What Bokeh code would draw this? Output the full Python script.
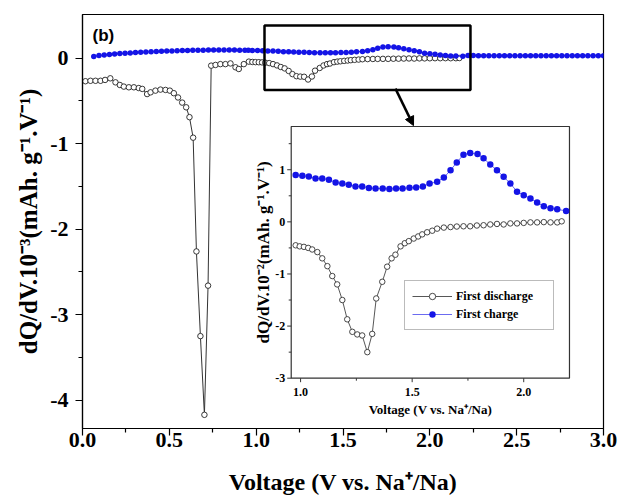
import numpy as np
from bokeh.plotting import figure
from bokeh.models import (Range1d, FixedTicker, BoxAnnotation, Arrow, NormalHead,
                          Label, Legend, LegendItem, PrintfTickFormatter)
from bokeh.core.properties import value
from bokeh.embed import file_html
from bokeh.resources import INLINE

# ---------------- data (dQ/dV in 10^-3 units for main plot) ----------------
# main-plot-only part of first discharge (V, dQ/dV)
dis_v_main = [0.017, 0.046, 0.075, 0.104, 0.13, 0.16, 0.19, 0.215, 0.238, 0.267, 0.296,
              0.324, 0.344, 0.372, 0.392, 0.42, 0.449, 0.478, 0.503, 0.526, 0.55, 0.574,
              0.597, 0.616, 0.637, 0.656, 0.679, 0.702, 0.723, 0.741, 0.766, 0.794, 0.823,
              0.852, 0.881, 0.9, 0.929, 0.958]
dis_main = [-0.27, -0.265, -0.265, -0.265, -0.255, -0.236, -0.283, -0.314, -0.333, -0.341,
            -0.341, -0.35, -0.36, -0.42, -0.40, -0.38, -0.368, -0.372, -0.38, -0.41, -0.46,
            -0.52, -0.575, -0.69, -0.93, -2.26, -3.25, -4.17, -2.66, -0.088, -0.08, -0.07,
            -0.07, -0.062, -0.107, -0.127, -0.07, -0.041]

# main-plot-only parts of first charge
chg_v_low = [0.065, 0.095, 0.125, 0.155, 0.185, 0.215, 0.245, 0.275, 0.305, 0.335, 0.365,
             0.395, 0.425, 0.455, 0.485, 0.515, 0.545, 0.575, 0.605, 0.635, 0.665, 0.695,
             0.725, 0.755, 0.785, 0.815, 0.845, 0.875, 0.905, 0.935, 0.955]
chg_low = [0.02, 0.03, 0.037, 0.043, 0.048, 0.053, 0.057, 0.061, 0.065, 0.068, 0.071, 0.074,
           0.077, 0.08, 0.082, 0.084, 0.086, 0.088, 0.09, 0.091, 0.092, 0.093, 0.094, 0.095,
           0.095, 0.095, 0.095, 0.094, 0.093, 0.092, 0.091]
chg_v_high = [2.22, 2.25, 2.28, 2.31, 2.34, 2.37, 2.40, 2.43, 2.46, 2.49, 2.52, 2.55, 2.58,
              2.61, 2.64, 2.67, 2.70, 2.73, 2.76, 2.79, 2.82, 2.85, 2.88, 2.91, 2.94, 2.97, 3.0]
chg_high = [0.03, 0.03, 0.029, 0.029, 0.029, 0.028, 0.028, 0.028, 0.028, 0.028, 0.028, 0.028,
            0.028, 0.028, 0.028, 0.028, 0.028, 0.028, 0.028, 0.028, 0.028, 0.028, 0.028,
            0.028, 0.028, 0.028, 0.028]

# inset data (units of the inset axis, x10 of the main axis)
ins_dis_v = [0.978, 0.996, 1.015, 1.034, 1.052, 1.075, 1.097, 1.12, 1.142, 1.164, 1.187,
             1.209, 1.232, 1.254, 1.276, 1.299, 1.321, 1.339, 1.366, 1.388, 1.408, 1.425,
             1.448, 1.467, 1.485, 1.507, 1.527, 1.545, 1.567, 1.59, 1.612, 1.642, 1.672,
             1.70, 1.73, 1.76, 1.79, 1.82, 1.85, 1.88, 1.91, 1.94, 1.97, 2.0, 2.03, 2.06,
             2.09, 2.12, 2.15, 2.17]
ins_dis = [-0.45, -0.47, -0.48, -0.50, -0.53, -0.58, -0.70, -0.85, -1.04, -1.20, -1.50,
           -1.87, -2.11, -2.16, -2.18, -2.50, -2.15, -1.47, -1.15, -0.86, -0.70, -0.63,
           -0.47, -0.41, -0.37, -0.32, -0.28, -0.24, -0.20, -0.17, -0.13, -0.11, -0.10,
           -0.09, -0.085, -0.085, -0.07, -0.065, -0.05, -0.04, -0.05, -0.03, -0.03, -0.02,
           -0.01, -0.01, -0.005, -0.01, -0.01, 0.01]
ins_chg_v = [0.978, 1.008, 1.037, 1.067, 1.097, 1.127, 1.157, 1.187, 1.216, 1.246, 1.276,
             1.306, 1.336, 1.368, 1.398, 1.428, 1.457, 1.488, 1.518, 1.548, 1.578, 1.612,
             1.642, 1.672, 1.70, 1.73, 1.76, 1.793, 1.82, 1.85, 1.88, 1.91, 1.94, 1.97,
             2.0, 2.03, 2.06, 2.09, 2.12, 2.15, 2.19]
ins_chg = [0.90, 0.885, 0.87, 0.83, 0.83, 0.81, 0.755, 0.735, 0.71, 0.68, 0.68, 0.65, 0.64,
           0.64, 0.63, 0.64, 0.64, 0.655, 0.66, 0.68, 0.735, 0.77, 0.85, 0.99, 1.14, 1.29,
           1.32, 1.30, 1.22, 1.10, 0.99, 0.865, 0.735, 0.58, 0.51, 0.45, 0.37, 0.30, 0.26,
           0.24, 0.21]
INSET_FACTOR = 10.0

x_ticks = [0.0, 0.5, 1.0, 1.5, 2.0, 2.5, 3.0]
x_minor = [0.25, 0.75, 1.25, 1.75, 2.25, 2.75]
y_ticks = [-4, -3, -2, -1, 0]
y_minor = [-3.5, -2.5, -1.5, -0.5]
ix_ticks = [1.0, 1.5, 2.0]
ix_minor = [1.25, 1.75]
iy_ticks = [-3, -2, -1, 0, 1]
iy_minor = [-2.5, -1.5, -0.5, 0.5, 1.5]

# combined series for the main plot
main_dis_v = dis_v_main + ins_dis_v
main_dis = dis_main + [v / INSET_FACTOR for v in ins_dis]
main_chg_v = chg_v_low + ins_chg_v + chg_v_high
main_chg = chg_low + [v / INSET_FACTOR for v in ins_chg] + chg_high

SERIF = "Liberation Serif"
BLUE = "#1414e6"

# ---------------- main figure ----------------
FW, FH = 521, 414
p = figure(frame_width=FW, frame_height=FH, x_range=Range1d(0, 3.0),
           y_range=Range1d(-4.33, 0.51), output_backend="svg", toolbar_location=None,
           min_border_left=82, min_border_right=17, min_border_top=14, min_border_bottom=10)
p.xgrid.visible = False
p.ygrid.visible = False
p.outline_line_color = "black"
p.outline_line_width = 1.2
p.outline_line_alpha = 1
p.background_fill_color = "white"

for ax in (p.xaxis[0], p.yaxis[0]):
    ax.axis_line_width = 1.2
    ax.axis_line_color = "black"
    ax.major_tick_line_color = "black"
    ax.minor_tick_line_color = "black"
    ax.major_tick_in = 0
    ax.major_tick_out = 7
    ax.minor_tick_in = 0
    ax.minor_tick_out = 4
    ax.major_tick_line_width = 1.2
    ax.minor_tick_line_width = 1.2
    ax.major_label_text_font = SERIF
    ax.major_label_text_font_style = "bold"
    ax.major_label_text_font_size = "22px"
    ax.major_label_text_color = "black"
    ax.axis_label_text_font = SERIF
    ax.axis_label_text_font_style = "bold"
    ax.axis_label_text_color = "black"

p.xaxis.ticker = FixedTicker(ticks=x_ticks, minor_ticks=x_minor)
p.xaxis.formatter = PrintfTickFormatter(format="%.1f")
p.xaxis.axis_label = "Voltage (V vs. Na\u207a/Na)"
p.xaxis.axis_label_text_font_size = "24px"
p.xaxis.major_label_standoff = -3
p.xaxis.axis_label_standoff = 19

p.yaxis.ticker = FixedTicker(ticks=y_ticks, minor_ticks=y_minor)
p.yaxis.formatter = PrintfTickFormatter(format="%d")
p.yaxis.axis_label = "dQ/dV.10\u207b\u00b3(mAh. g\u207b\u00b9.V\u207b\u00b9)"
p.yaxis.axis_label_text_font_size = "25px"
p.yaxis.major_label_standoff = 7
p.yaxis.axis_label_standoff = 5

# main curves
p.line(main_dis_v, main_dis, line_color="#333333", line_width=1)
p.scatter(main_dis_v, main_dis, size=5.5, marker="circle", fill_color="white",
          line_color="#222222", line_width=0.9)
p.line(main_chg_v, main_chg, line_color=BLUE, line_width=1)
p.scatter(main_chg_v, main_chg, size=5.5, marker="circle", fill_color=BLUE, line_color=None)

# zoom box and arrow
p.add_layout(BoxAnnotation(left=1.048, right=2.234, bottom=-0.372, top=0.38,
                           fill_alpha=0, line_color="black", line_alpha=1, line_width=2.5))
p.add_layout(Arrow(end=NormalHead(size=9, fill_color="black", line_color="black"),
                   x_start=1.802, y_start=-0.357, x_end=1.906, y_end=-0.789,
                   line_width=2.5, line_color="black"))

p.add_layout(Label(x=0.058, y=0.263, text="(b)", text_font="Liberation Sans",
                   text_font_style="bold", text_font_size="17px", text_baseline="middle",
                   text_color="black"))

# ---------------- inset (drawn on extra ranges) ----------------
IX = (0.958, 2.205)
IY = (-3.0, 1.83)
fl, fr = 0.4006, 0.9347   # inset box, fraction of main frame width
fb, ft = 0.1215, 0.7295   # inset box, fraction of main frame height


def extra(lo, hi, f0, f1):
    span = (hi - lo) / (f1 - f0)
    start = lo - f0 * span
    return Range1d(start, start + span)


p.extra_x_ranges = {"ix": extra(IX[0], IX[1], fl, fr)}
p.extra_y_ranges = {"iy": extra(IY[0], IY[1], fb, ft)}
kw = dict(x_range_name="ix", y_range_name="iy")

p.quad(left=[IX[0]], right=[IX[1]], bottom=[IY[0]], top=[IY[1]], fill_color="white",
       line_color="#333333", line_width=1.2, **kw)

rd_l = p.line(ins_dis_v, ins_dis, line_color="#444444", line_width=0.9, **kw)
rd_s = p.scatter(ins_dis_v, ins_dis, size=5.5, marker="circle", fill_color="white",
                 line_color="#333333", line_width=0.9, **kw)
rc_l = p.line(ins_chg_v, ins_chg, line_color="#5a5aee", line_width=0.9, **kw)
rc_s = p.scatter(ins_chg_v, ins_chg, size=6.5, marker="circle", fill_color=BLUE,
                 line_color=None, **kw)

# inset ticks
p.ray(x=ix_ticks, y=[IY[0]] * len(ix_ticks), length=4, angle=-np.pi / 2,
      length_units="screen", line_color="#333333", line_width=1, **kw)
p.ray(x=ix_minor, y=[IY[0]] * len(ix_minor), length=2.5, angle=-np.pi / 2,
      length_units="screen", line_color="#333333", line_width=1, **kw)
p.ray(x=[IX[0]] * len(iy_ticks), y=iy_ticks, length=4, angle=np.pi,
      length_units="screen", line_color="#333333", line_width=1, **kw)
p.ray(x=[IX[0]] * len(iy_minor), y=iy_minor, length=2.5, angle=np.pi,
      length_units="screen", line_color="#333333", line_width=1, **kw)

p.text(x=ix_ticks, y=[IY[0]] * len(ix_ticks), text=[f"{t:.1f}" for t in ix_ticks],
       text_font=value(SERIF), text_font_style=value("bold"), text_font_size=value("12px"),
       text_align="center", text_baseline="middle", y_offset=14, text_color="black", **kw)
p.text(x=[IX[0]] * len(iy_ticks), y=iy_ticks, text=[str(t) for t in iy_ticks],
       text_font=value(SERIF), text_font_style=value("bold"), text_font_size=value("12px"),
       text_align="right", text_baseline="middle", x_offset=-6, text_color="black", **kw)
p.text(x=[(IX[0] + IX[1]) / 2], y=[IY[0]], text=["Voltage (V vs. Na\u207a/Na)"],
       text_font=value(SERIF), text_font_style=value("bold"), text_font_size=value("13px"),
       text_align="center", text_baseline="middle", y_offset=31, text_color="black", **kw)
p.text(x=[IX[0]], y=[(IY[0] + IY[1]) / 2],
       text=["dQ/dV.10\u207b\u00b2(mAh. g\u207b\u00b9.V\u207b\u00b9)"],
       text_font=value(SERIF), text_font_style=value("bold"), text_font_size=value("17px"),
       text_align="center", text_baseline="middle", x_offset=-28, angle=np.pi / 2,
       text_color="black", **kw)

legend = Legend(items=[LegendItem(label="First discharge", renderers=[rd_l, rd_s]),
                       LegendItem(label="First charge", renderers=[rc_l, rc_s])],
                location=(322, 98), border_line_color="#777777", border_line_width=1,
                background_fill_color="white", background_fill_alpha=1,
                label_text_font=SERIF, label_text_font_style="bold",
                label_text_font_size="12px", label_text_color="black",
                glyph_width=40, glyph_height=16,
                label_height=16, spacing=2, padding=7, margin=0, label_standoff=4,
                label_width=90)
p.add_layout(legend)

open("out.html", "w").write(file_html(p, INLINE))
